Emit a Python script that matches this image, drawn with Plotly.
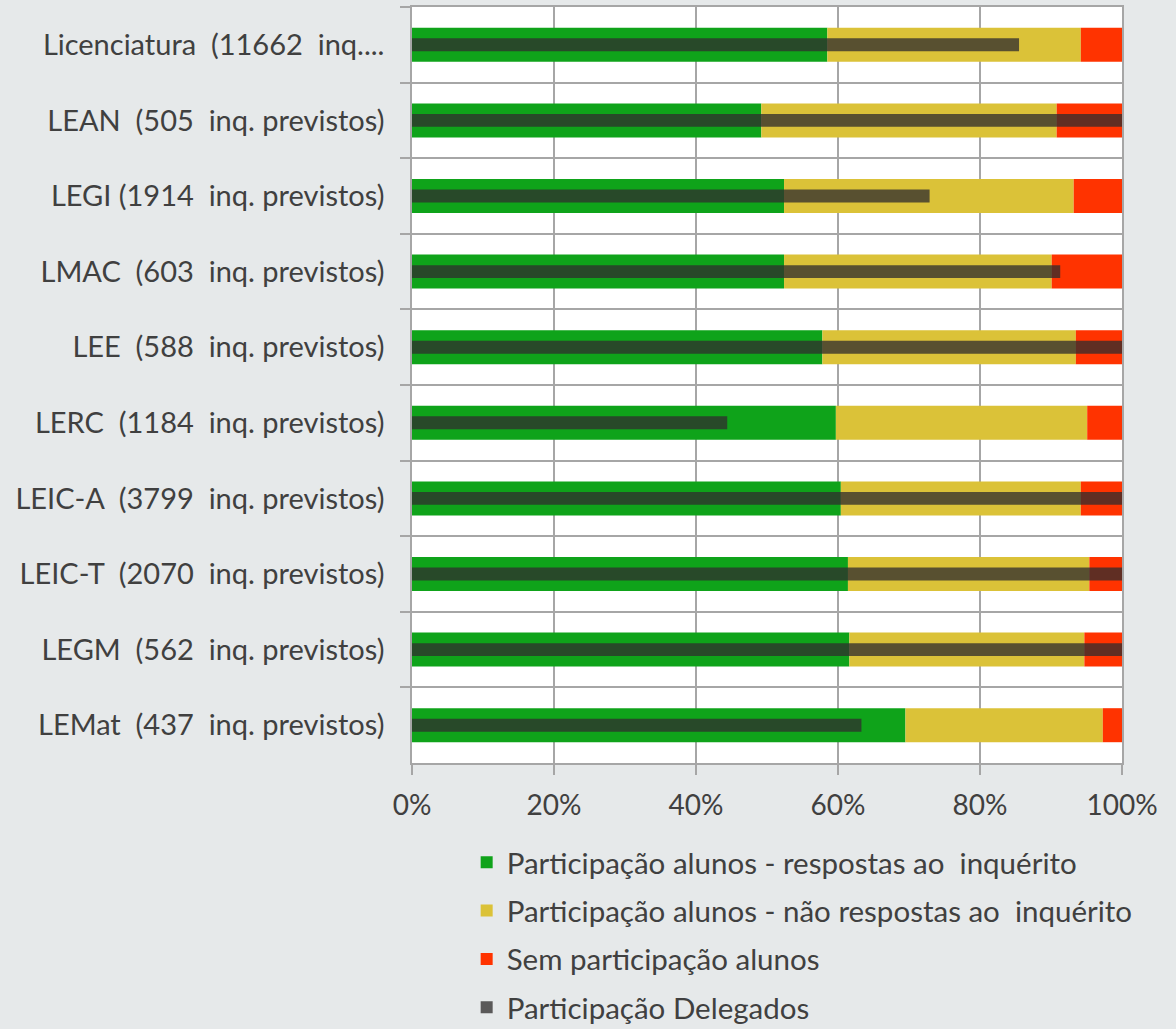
import plotly.graph_objects as go

categories = [
    "Licenciatura  (11662  inq....",
    "LEAN  (505  inq. previstos)",
    "LEGI (1914  inq. previstos)",
    "LMAC  (603  inq. previstos)",
    "LEE  (588  inq. previstos)",
    "LERC  (1184  inq. previstos)",
    "LEIC-A  (3799  inq. previstos)",
    "LEIC-T  (2070  inq. previstos)",
    "LEGM  (562  inq. previstos)",
    "LEMat  (437  inq. previstos)",
]
respostas = [58.5, 49.2, 52.4, 52.4, 57.8, 59.7, 60.4, 61.4, 61.6, 69.5]
nao_respostas = [35.7, 41.6, 40.8, 37.7, 35.7, 35.4, 33.8, 34.0, 33.1, 27.8]
sem_participacao = [5.8, 9.2, 6.8, 9.9, 6.5, 4.9, 5.8, 4.6, 5.3, 2.7]
delegados = [85.5, 100.0, 72.9, 91.3, 100.0, 44.4, 100.0, 100.0, 100.0, 63.3]

labels = [c.replace("  ", " \u00a0") for c in categories]

base_yellow = respostas
base_red = [a + b for a, b in zip(respostas, nao_respostas)]

FONT = "Lato"
TXT = "#404040"
GRID = "#A6A6A6"

fig = go.Figure()
fig.add_trace(go.Bar(
    y=labels, x=respostas, base=[0] * len(labels), orientation="h",
    name="Participação alunos - respostas ao \u00a0inquérito",
    marker=dict(color="#0FA31A", line=dict(width=0)), width=0.45,
    legendgroup="a",
))
fig.add_trace(go.Bar(
    y=labels, x=nao_respostas, base=base_yellow, orientation="h",
    name="Participação alunos - não respostas ao \u00a0inquérito",
    marker=dict(color="#DBC238", line=dict(width=0)), width=0.45,
    legendgroup="b",
))
fig.add_trace(go.Bar(
    y=labels, x=sem_participacao, base=base_red, orientation="h",
    name="Sem participação alunos",
    marker=dict(color="#FF3300", line=dict(width=0)), width=0.45,
    legendgroup="c",
))
fig.add_trace(go.Bar(
    y=labels, x=delegados, base=[0] * len(labels), orientation="h",
    name="Participação Delegados",
    marker=dict(color="rgba(48,46,46,0.77)", line=dict(width=0)), width=0.17,
    legendgroup="d",
))

fig.update_layout(
    width=1176, height=1029,
    barmode="overlay",
    paper_bgcolor="#E6E9EA",
    plot_bgcolor="#FFFFFF",
    margin=dict(l=412, r=54, t=7, b=266, autoexpand=False),
    font=dict(family=FONT, size=29, color=TXT),
    legend=dict(
        orientation="v", x=0.077, xanchor="left",
        yref="container", y=0.187, yanchor="top",
        bgcolor="rgba(0,0,0,0)", font=dict(family=FONT, size=29.5, color=TXT),
        tracegroupgap=7, itemclick=False,
    ),
    showlegend=True,
)
fig.update_xaxes(
    range=[0, 100], tickvals=[0, 20, 40, 60, 80, 100],
    ticktext=["0%", "20%", "40%", "60%", "80%", "100%"],
    showgrid=True, gridcolor=GRID, gridwidth=1.5,
    showline=True, linecolor=GRID, linewidth=1.5, mirror=True,
    ticks="outside", ticklen=10, tickcolor=GRID, tickwidth=1.5,
    ticklabelstandoff=7, zeroline=False,
    tickfont=dict(family=FONT, size=28, color=TXT),
)
fig.update_yaxes(
    type="category", categoryorder="array", categoryarray=labels,
    autorange="reversed", tickson="boundaries",
    showgrid=True, gridcolor=GRID, gridwidth=1.5,
    showline=True, linecolor=GRID, linewidth=1.5, mirror=True,
    ticks="outside", ticklen=10, tickcolor=GRID, tickwidth=1.5,
    ticklabelstandoff=20,
    tickfont=dict(family=FONT, size=29, color=TXT),
)

fig.write_html(
    "out.html",
    config={"displayModeBar": False},
    post_script="document.body.style.margin='0';document.body.style.background='#E6E9EA';",
)
